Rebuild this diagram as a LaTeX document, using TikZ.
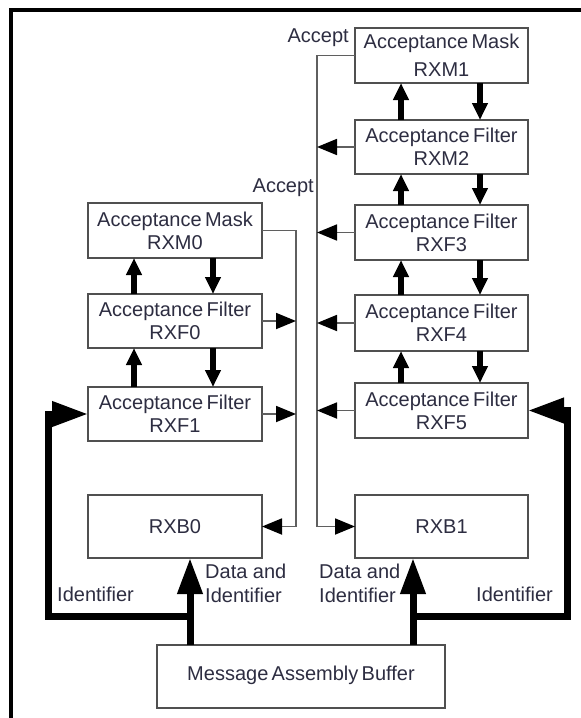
\documentclass[tikz,border=0pt]{standalone}
\usepackage{fontspec}
\setmainfont{Liberation Sans}
\usetikzlibrary{arrows.meta,calc}
\definecolor{boxline}{RGB}{80,80,80}
\definecolor{wire}{RGB}{95,95,95}
\definecolor{ink}{RGB}{45,45,65}
\begin{document}
\begin{tikzpicture}[x=1pt,y=-1pt,
  box/.style={draw=boxline, line width=2pt, fill=white, inner sep=0pt, outer sep=0pt,
    align=center, text=ink, font=\fontsize{20}{23}\selectfont, anchor=north west},
  colL/.style={minimum width=174pt},
  colR/.style={minimum width=173pt},
  lbl/.style={inner sep=0pt, text=ink, font=\fontsize{20}{24}\selectfont, align=left},
  wireline/.style={draw=wire, line width=1.8pt},
  wirearrow/.style={wireline, -{Triangle[length=20pt,width=16pt,color=black]}},
  link/.style={draw=black, line width=5.5pt, -{Triangle[length=17pt,width=15pt]}},
  bus/.style={draw=black, line width=7pt, line join=miter},
  busarrow/.style={bus, -{Triangle[length=36pt,width=24pt]}}]
\useasboundingbox (0,0) rectangle (581,718);
\fill[white] (0,0) rectangle (581,718);

% frame
\draw[line width=4pt, line join=miter] (11,718) -- (11,10) -- (581,10);

% right column: mask 1 and filters 2..5
\node[box, colR, minimum height=55pt, font=\fontsize{20}{28}\selectfont] (rxm1) at (355,28) {Acceptance\,Mask\\RXM1};
\node[box, colR, minimum height=54pt] (rxm2) at (355,120) {Acceptance\,Filter\\RXM2};
\node[box, colR, minimum height=55pt] (rxf3) at (355,205) {Acceptance\,Filter\\RXF3};
\node[box, colR, minimum height=56pt] (rxf4) at (355,295) {Acceptance\,Filter\\RXF4};
\node[box, colR, minimum height=55pt] (rxf5) at (355,383) {Acceptance\,Filter\\RXF5};
\node[box, colR, minimum height=63pt] (rxb1) at (355,495) {RXB1};

% left column: mask 0 and filters 0..1
\node[box, colL, minimum height=55pt] (rxm0) at (88,203) {Acceptance\,Mask\\RXM0};
\node[box, colL, minimum height=54pt] (rxf0) at (88,294) {Acceptance\,Filter\\RXF0};
\node[box, colL, minimum height=54pt] (rxf1) at (88,387) {Acceptance\,Filter\\RXF1};
\node[box, colL, minimum height=63pt] (rxb0) at (88,495) {RXB0};

% message assembly buffer
\node[box, minimum width=288pt, minimum height=63pt] (mab) at (157,645) {\raisebox{6pt}{Message\,Assembly\,Buffer}};

% vertical links between neighbouring boxes
\foreach \a/\b in {rxm1/rxm2, rxm2/rxf3, rxf3/rxf4, rxf4/rxf5, rxm0/rxf0, rxf0/rxf1}{
  \draw[link] ($(\b.north west)+(46,0)$) -- ($(\a.south west)+(46,0)$);
  \draw[link] ($(\a.south west)+(125,0)$) -- ($(\b.north west)+(125,0)$);
}

% accept spines
\coordinate (spineL) at (296,0);
\coordinate (spineR) at (317,0);

\draw[wirearrow] (rxm1.west) -- (rxm1.west -| spineR) |- (rxb1.west);
\foreach \n in {rxm2, rxf3, rxf4, rxf5}
  \draw[wirearrow] (\n.west) -- (\n.west -| spineR);

\draw[wirearrow] (rxm0.east) -- (rxm0.east -| spineL) |- (rxb0.east);
\foreach \n in {rxf0, rxf1}
  \draw[wirearrow] (\n.east) -- (\n.east -| spineL);

% data and identifier buses
\coordinate (busL) at (190,616);
\coordinate (busR) at (413,616);
\coordinate (cornL) at (48,616);
\coordinate (cornR) at (567,616);

\draw[busarrow] (mab.north -| busL) -- (rxb0.south -| busL);
\draw[busarrow] (mab.north -| busR) -- (rxb1.south -| busR);
\draw[busarrow] (busL) -- (cornL) |- (rxf1.west);
\draw[busarrow] (busR) -- (cornR) |- (rxf5.east);

% labels
\node[lbl, anchor=east] (acc1) at (349,38) {Accept};
\node[lbl, anchor=east] (acc2) at (314,188) {Accept};
\node[lbl, anchor=west] (idl) at (57,594) {Identifier};
\node[lbl, anchor=west] (dil) at (205,583) {Data and\\Identifier};
\node[lbl, anchor=west] (dir) at (319,583) {Data and\\Identifier};
\node[lbl, anchor=west] (idr) at (476,594) {Identifier};
\end{tikzpicture}
\end{document}
